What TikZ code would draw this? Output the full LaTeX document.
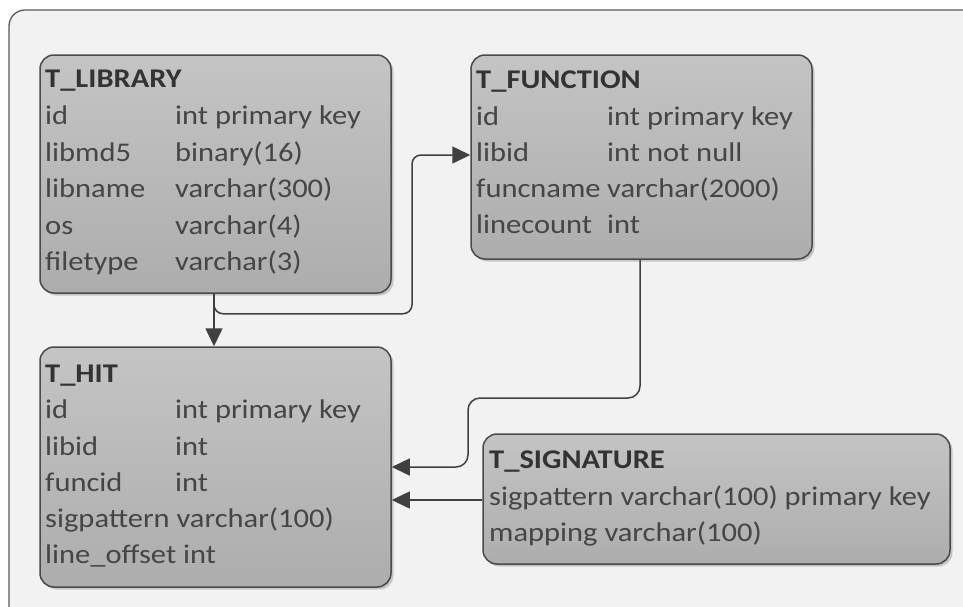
\documentclass[tikz,border=0pt]{standalone}
\usepackage{fontspec}
\setmainfont{Carlito}[FakeStretch=1.13]
\usetikzlibrary{arrows.meta,shadows,calc}
\definecolor{framefill}{HTML}{F2F2F2}
\definecolor{frameline}{HTML}{5A5A5A}
\definecolor{boxtop}{HTML}{C4C4C4}
\definecolor{boxbot}{HTML}{ADADAD}
\definecolor{boxline}{HTML}{4A4A4A}
\definecolor{txtcol}{HTML}{454545}
\definecolor{ttlcol}{HTML}{333333}
\definecolor{linecol}{HTML}{404040}
\begin{document}
\begin{tikzpicture}[x=1pt,y=-1pt,
  tbl/.style={draw=boxline, line width=1.5pt, rounded corners=14pt,
    top color=boxtop, bottom color=boxbot, inner sep=0pt,
    drop shadow={shadow xshift=2.5pt, shadow yshift=-2.5pt, opacity=0.18, fill=black}},
  txt/.style={anchor=base west, inner sep=0pt, text=txtcol, font=\fontsize{27}{30}\selectfont},
  ttl/.style={anchor=base west, inner sep=0pt, text=ttlcol, font=\fontsize{27}{30}\selectfont\bfseries},
  conn/.style={draw=linecol, line width=1.5pt, -{Triangle[length=18pt,width=17pt]}}]
\useasboundingbox (0,0) rectangle (963,606);
\fill[white] (0,0) rectangle (963,606);
\begin{scope}
\clip (0,0) rectangle (963,606);
\draw[fill=framefill, draw=frameline, line width=1.3pt, rounded corners=16pt] (9,10) rectangle (990,625);
\end{scope}

% tables
\node[tbl, minimum width=351pt, minimum height=238pt] (lib) at (215.5,174) {};
\node[tbl, minimum width=341pt, minimum height=204pt] (fun) at (641.5,157) {};
\node[tbl, minimum width=351pt, minimum height=240pt] (hit) at (215.5,467) {};
\node[tbl, minimum width=467pt, minimum height=130pt] (sig) at (716.5,499) {};

% T_LIBRARY
\node[ttl] (libT) at (45,87.5) {T\_LIBRARY};
\node[txt] (lib1a) at (45,124.5) {id};
\node[txt] (lib1b) at (175,124.5) {int primary key};
\node[txt] (lib2a) at (45,161) {libmd5};
\node[txt] (lib2b) at (175,161) {binary(16)};
\node[txt] (lib3a) at (45,197.5) {libname};
\node[txt] (lib3b) at (175,197.5) {varchar(300)};
\node[txt] (lib4a) at (45,234) {os};
\node[txt] (lib4b) at (175,234) {varchar(4)};
\node[txt] (lib5a) at (45,270.5) {filetype};
\node[txt] (lib5b) at (175,270.5) {varchar(3)};

% T_FUNCTION
\node[ttl] (funT) at (476,88) {T\_FUNCTION};
\node[txt] (fun1a) at (476,125) {id};
\node[txt] (fun1b) at (607,125) {int primary key};
\node[txt] (fun2a) at (476,161) {libid};
\node[txt] (fun2b) at (607,161) {int not null};
\node[txt] (fun3a) at (476,197) {funcname};
\node[txt] (fun3b) at (607,197) {varchar(2000)};
\node[txt] (fun4a) at (476,233) {linecount};
\node[txt] (fun4b) at (607,233) {int};

% T_HIT
\node[ttl] (hitT) at (45,382) {T\_HIT};
\node[txt] (hit1a) at (45,418.5) {id};
\node[txt] (hit1b) at (175,418.5) {int primary key};
\node[txt] (hit2a) at (45,455) {libid};
\node[txt] (hit2b) at (175,455) {int};
\node[txt] (hit3a) at (45,491) {funcid};
\node[txt] (hit3b) at (175,491) {int};
\node[txt] (hit4) at (45,527) {sigpattern varchar(100)};
\node[txt] (hit5) at (45,563.5) {line\_offset int};

% T_SIGNATURE
\node[ttl] (sigT) at (489,468) {T\_SIGNATURE};
\node[txt] (sig1) at (489,505) {sigpattern varchar(100) primary key};
\node[txt] (sig2) at (489,541) {mapping varchar(100)};

% connectors
\coordinate (libout) at ([xshift=-1.5pt]lib.south);
\draw[conn] (libout) -- (libout |- hit.north);
\draw[conn, rounded corners=9pt] (libout) -- ++(0,20) -| (412,155) -- (412,155 -| fun.west);
\coordinate (funout) at ([xshift=-1.5pt]fun.south);
\draw[conn, rounded corners=12pt] (funout) -- (funout |- 0,398) -- (468,398) -- (468,467) -- (468,467 -| hit.east);
\draw[conn] (sig.west |- 0,500) -- (hit.east |- 0,500);
\end{tikzpicture}
\end{document}
